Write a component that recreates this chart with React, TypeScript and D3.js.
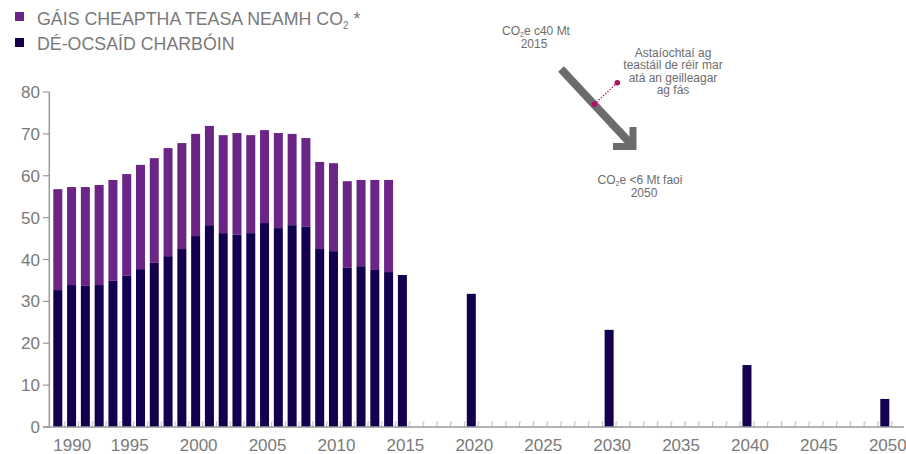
import React from 'react';
import * as d3 from 'd3';

const histYears = [1990, 1991, 1992, 1993, 1994, 1995, 1996, 1997, 1998, 1999, 2000, 2001, 2002, 2003, 2004, 2005, 2006, 2007, 2008, 2009, 2010, 2011, 2012, 2013, 2014, 2015];
const co2 = [32.7, 33.9, 33.7, 33.9, 34.9, 36.1, 37.7, 39.2, 40.8, 42.5, 45.6, 48.2, 46.3, 45.9, 46.3, 48.7, 47.5, 48.2, 47.8, 42.5, 42.0, 38.0, 38.4, 37.5, 37.0, 36.3];
const nonCo2 = [24.1, 23.4, 23.6, 23.9, 24.1, 24.3, 24.9, 25.0, 25.8, 25.3, 24.4, 23.7, 23.4, 24.3, 23.4, 22.2, 22.7, 21.8, 21.2, 20.8, 21.0, 20.7, 20.6, 21.5, 22.0, 0];
const projYears = [2020, 2030, 2040, 2050];
const projCo2 = [31.8, 23.2, 14.8, 6.7];
const yTicks = [0, 10, 20, 30, 40, 50, 60, 70, 80];
const xLabels = [1990, 1995, 2000, 2005, 2010, 2015, 2020, 2025, 2030, 2035, 2040, 2045, 2050];
const legendLabels = ['GÁIS CHEAPTHA TEASA NEAMH CO', 'DÉ-OCSAÍD CHARBÓIN'];
const noteTop = ['CO', 'e c40 Mt', '2015'];
const noteBottom = ['CO', 'e <6 Mt faoi', '2050'];
const noteSide = ['Astaíochtaí ag', 'teastáil de réir mar', 'atá an geilleagar', 'ag fás'];

const PURPLE = '#6a2586';
const NAVY = '#13004f';
const TEXT = '#7a7a7a';
const AXIS = '#9a9a9a';
const FONT = '"Liberation Sans", Arial, sans-serif';

export default function App() {
  const x = d3.scaleLinear().domain([1990, 2050]).range([57.8, 884.8]);
  const y = d3.scaleLinear().domain([0, 80]).range([427, 92]);
  const step = x(1991) - x(1990);
  const bw = 9;

  const table = histYears.map((yr, i) => ({ year: yr, co2: co2[i], other: nonCo2[i] }));
  const stacked = d3.stack<any>().keys(['co2', 'other'])(table);

  const allYears = d3.range(1990, 2051);

  return (
    <svg width={906} height={454} style={{ position: 'absolute', left: 0, top: 0 }} fontFamily={FONT}>
      <rect width={906} height={454} fill="#fff" />
      {/* legend */}
      <rect x={15} y={12} width={9} height={9} fill={PURPLE} />
      <rect x={15} y={38} width={9} height={9} fill={NAVY} />
      <text x={37} y={25} fontSize={17.8} fill={TEXT}>
        {legendLabels[0]}
        <tspan fontSize={10} dy={4}>2</tspan>
        <tspan dy={-4}> *</tspan>
      </text>
      <text x={37} y={50} fontSize={17.8} fill={TEXT}>{legendLabels[1]}</text>

      {/* minor ticks */}
      {allYears.map((yr) => (
        <path key={'mt' + yr} d={`M${x(yr) + step / 2 + 1.5},${y(0) - 5} h-1.5 v5`} fill="none" stroke="#bdbdbd" strokeWidth={1} />
      ))}

      {/* historical stacked bars */}
      {stacked.map((s, si) => (
        <g key={s.key} fill={si === 0 ? NAVY : PURPLE}>
          {s.map((d: any, i: number) =>
            d[1] - d[0] > 0 ? (
              <rect key={i} x={x(d.data.year) - bw / 2} y={y(d[1])} width={bw} height={y(d[0]) - y(d[1])} />
            ) : null
          )}
        </g>
      ))}
      {/* projection bars */}
      {projYears.map((yr, i) => (
        <rect key={'p' + yr} x={x(yr) - bw / 2} y={y(projCo2[i])} width={bw} height={y(0) - y(projCo2[i])} fill={NAVY} />
      ))}

      {/* axes */}
      <line x1={49.3} x2={49.3} y1={y(80)} y2={y(0)} stroke={AXIS} strokeWidth={1.5} />
      <line x1={43} x2={904} y1={y(0)} y2={y(0)} stroke={AXIS} strokeWidth={1.5} />
      {yTicks.map((t) => (
        <g key={'yt' + t}>
          <line x1={43} x2={49.3} y1={y(t)} y2={y(t)} stroke={AXIS} strokeWidth={1.2} />
          <text x={40} y={y(t)} dy="0.36em" textAnchor="end" fontSize={17} fill={TEXT}>{t}</text>
        </g>
      ))}
      {xLabels.map((yr) =>
        yr === 1990 ? (
          <text key={'xl' + yr} x={x(yr) - bw / 2} y={451} textAnchor="start" fontSize={17} fill={TEXT}>{yr}</text>
        ) : (
          <text key={'xl' + yr} x={x(yr) + 3} y={451} textAnchor="middle" fontSize={17} fill={TEXT}>{yr}</text>
        )
      )}

      {/* annotation arrow */}
      <line x1={561} y1={69} x2={630} y2={143} stroke="#6c6c6c" strokeWidth={8} />
      <path d="M613,146.5 L633,146.5 L633,127" fill="none" stroke="#6c6c6c" strokeWidth={7} strokeLinejoin="miter" />
      <line x1={594.3} y1={104.3} x2={617.3} y2={82.7} stroke="#c0106a" strokeWidth={1.2} strokeDasharray="1.5 1.5" />
      <circle cx={594.3} cy={104.3} r={2.8} fill="#b0105e" />
      <circle cx={617.3} cy={82.7} r={2.8} fill="#b0105e" />

      <g fontSize={12} fill="#6d6d6d" textAnchor="middle">
        <text x={536} y={35}>
          {noteTop[0]}
          <tspan fontSize={7} dy={2}>2</tspan>
          <tspan dy={-2}>{noteTop[1]}</tspan>
        </text>
        <text x={534} y={48}>{noteTop[2]}</text>
        {noteSide.map((s, i) => (
          <text key={'ns' + i} x={673} y={57 + i * 12.4}>{s}</text>
        ))}
        <text x={640} y={184}>
          {noteBottom[0]}
          <tspan fontSize={7} dy={2}>2</tspan>
          <tspan dy={-2}>{noteBottom[1]}</tspan>
        </text>
        <text x={644} y={197}>{noteBottom[2]}</text>
      </g>
    </svg>
  );
}
